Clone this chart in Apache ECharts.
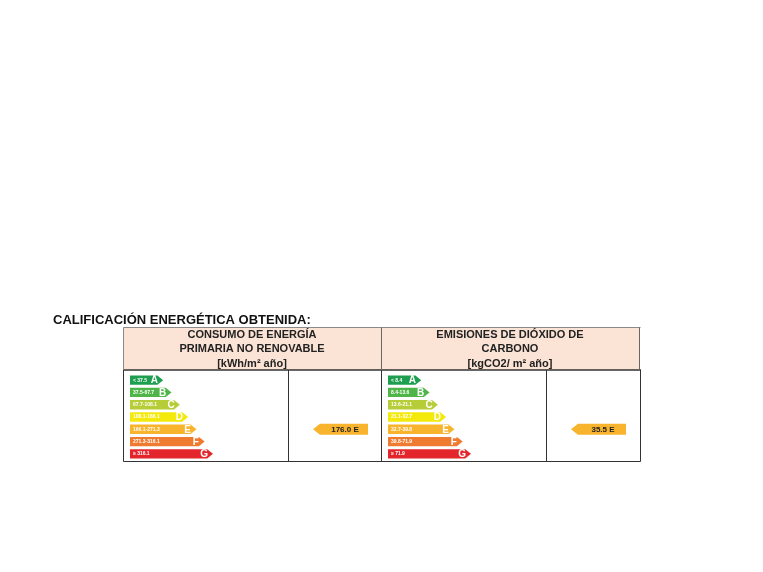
<!DOCTYPE html>
<html>
<head>
<meta charset="utf-8">
<script src="https://cdn.jsdelivr.net/npm/echarts@6/dist/echarts.min.js"></script>
<style>
html,body{margin:0;padding:0;background:#fff;}
#chart{width:763px;height:572px;}
</style>
</head>
<body>
<div id="chart"></div>
<script>
// ---- data ----
const classes = ['A', 'B', 'C', 'D', 'E', 'F', 'G'];
const classLengths = [4, 5, 6, 7, 8, 9, 10];
const classColors = ['#1e9f4f', '#4fb548', '#b6cd38', '#f3ea0c', '#f7b42c', '#ee7b30', '#e3262b'];
const energyRanges = ['< 37.5', '37.5-67.7', '67.7-108.1', '108.1-166.1', '166.1-271.3', '271.3-316.1', '≥ 316.1'];
const co2Ranges = ['< 8.4', '8.4-13.6', '13.6-21.1', '21.1-32.7', '32.7-39.8', '39.8-71.9', '≥ 71.9'];
const energyRating = { value: '176.0', cls: 'E' };
const co2Rating = { value: '35.5', cls: 'E' };
const titleText = 'CALIFICACIÓN ENERGÉTICA OBTENIDA:';
const energyHeader = ['CONSUMO DE ENERGÍA', 'PRIMARIA NO RENOVABLE', '[kWh/m² año]'];
const co2Header = ['EMISIONES DE DIÓXIDO DE', 'CARBONO', '[kgCO2/ m² año]'];

const chart = echarts.init(document.getElementById('chart'), null, { renderer: 'canvas' });

function scaleRender(ranges) {
  return function (params, api) {
    const len = api.value(0);
    const idx = api.value(1);
    const s = api.coord([0, idx]);
    const e = api.coord([len, idx]);
    const bh = api.size([0, 1])[1] * 0.76;
    const cy = s[1];
    const y0 = cy - bh / 2, y1 = cy + bh / 2;
    const head = bh * 0.62;
    const x0 = s[0], x1 = e[0];
    return {
      type: 'group',
      children: [
        { type: 'polygon', shape: { points: [[x0, y0], [x1 - head, y0], [x1, cy], [x1 - head, y1], [x0, y1]] },
          style: { fill: classColors[idx] } },
        { type: 'text', style: { text: ranges[idx], x: x0 + 3, y: cy, verticalAlign: 'middle', fill: '#fff',
          font: 'bold 5px "Liberation Sans", Arial, sans-serif' } },
        { type: 'text', style: { text: classes[idx], x: x1 - head - 3, y: cy + 0.5, align: 'center', verticalAlign: 'middle',
          fill: '#fff', font: 'bold 10px "Liberation Sans", Arial, sans-serif' } }
      ]
    };
  };
}

function ratingRender(rating) {
  return function (params, api) {
    const idx = api.value(1);
    const cy = api.coord([0, idx])[1];
    const cs = params.coordSys;
    const tip = cs.x + 25, end = cs.x + 80;
    const h = 11, head = 7;
    return {
      type: 'group',
      children: [
        { type: 'polygon', shape: { points: [[tip, cy], [tip + head, cy - h / 2], [end, cy - h / 2], [end, cy + h / 2], [tip + head, cy + h / 2]] },
          style: { fill: classColors[idx] } },
        { type: 'text', style: { text: rating.value + ' ' + rating.cls, x: (tip + head + end) / 2 + 1, y: cy + 0.5,
          align: 'center', verticalAlign: 'middle', fill: '#222', font: 'bold 8px "Liberation Sans", Arial, sans-serif' } }
      ]
    };
  };
}

const gridTop = 374, gridH = 86;
const grids = [
  { left: 130, top: gridTop, width: 83, height: gridH },
  { left: 388, top: gridTop, width: 83, height: gridH },
  { left: 288, top: gridTop, width: 93, height: gridH },
  { left: 546, top: gridTop, width: 94, height: gridH }
];

const xAxes = grids.map((g, i) => ({ gridIndex: i, type: 'value', min: 0, max: i < 2 ? 10 : 1, show: false }));
const yAxes = grids.map((g, i) => ({ gridIndex: i, type: 'category', data: classes, inverse: true, show: false }));

const scaleData = classes.map((c, i) => [classLengths[i], i]);

function hline(x1, x2, y, color, w) { return { type: 'line', shape: { x1, y1: y, x2, y2: y }, style: { stroke: color || '#333', lineWidth: w || 1 }, silent: true }; }
function vline(x, y1, y2, color, w) { return { type: 'line', shape: { x1: x, y1, x2: x, y2 }, style: { stroke: color || '#333', lineWidth: w || 1 }, silent: true }; }
function headerText(lines, cx) {
  return lines.map((t, i) => ({
    type: 'text', style: { text: t, x: cx, y: 334.5 + i * 14.5, align: 'center', verticalAlign: 'middle', fill: '#222',
      font: 'bold 11px "Liberation Sans", Arial, sans-serif' }
  }));
}

const graphic = [
  { type: 'rect', shape: { x: 123.5, y: 327.5, width: 516, height: 42.5 }, style: { fill: '#fbe4d6' }, z: -1 },
  { type: 'rect', shape: { x: 123.5, y: 370, width: 516, height: 91 }, style: { fill: '#fff' }, z: -1 },
  { type: 'text', style: { text: titleText, x: 53, y: 320, verticalAlign: 'middle', fill: '#111',
    font: 'bold 13px "Liberation Sans", Arial, sans-serif' } },
  hline(123.5, 640.5, 327.5, '#8a8a8a'),
  hline(123, 641, 370, '#333', 1.6),
  hline(123.5, 640.5, 461.5, '#333'),
  vline(123.5, 327.5, 370, '#8a8a8a'),
  vline(381.5, 327.5, 370, '#666'),
  vline(639.5, 327.5, 370, '#666'),
  vline(123.5, 370, 461.5),
  vline(381.5, 370, 461.5),
  vline(640.5, 370, 461.5),
  vline(288.5, 370, 461.5),
  vline(546.5, 370, 461.5),
  ...headerText(energyHeader, 252),
  ...headerText(co2Header, 510)
];

chart.setOption({
  animation: false,
  backgroundColor: '#fff',
  grid: grids,
  xAxis: xAxes,
  yAxis: yAxes,
  graphic: graphic,
  series: [
    { type: 'custom', xAxisIndex: 0, yAxisIndex: 0, encode: { x: 0, y: 1 }, data: scaleData, renderItem: scaleRender(energyRanges) },
    { type: 'custom', xAxisIndex: 1, yAxisIndex: 1, encode: { x: 0, y: 1 }, data: scaleData, renderItem: scaleRender(co2Ranges) },
    { type: 'custom', xAxisIndex: 2, yAxisIndex: 2, encode: { x: 0, y: 1 }, data: [[0, classes.indexOf(energyRating.cls)]], renderItem: ratingRender(energyRating) },
    { type: 'custom', xAxisIndex: 3, yAxisIndex: 3, encode: { x: 0, y: 1 }, data: [[0, classes.indexOf(co2Rating.cls)]], renderItem: ratingRender(co2Rating) }
  ]
});
</script>
</body>
</html>
